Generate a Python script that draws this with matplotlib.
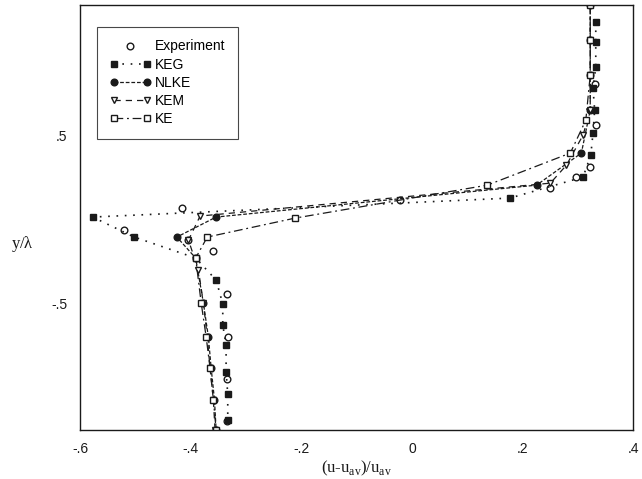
import matplotlib
matplotlib.use("Agg")
import matplotlib.pyplot as plt
from matplotlib.legend_handler import HandlerLine2D

# values: x = (u-u_av)/u_av, y = y/lambda
exp_x = [0.330, 0.332, 0.322, 0.297, 0.250, -0.021, -0.416, -0.520, -0.404, -0.359, -0.334, -0.333, -0.334, -0.334]
exp_y = [0.804, 0.560, 0.310, 0.250, 0.185, 0.113, 0.065, -0.065, -0.125, -0.190, -0.446, -0.702, -0.952, -1.202]

keg_x = [0.332, 0.332, 0.332, 0.327, 0.330, 0.327, 0.323, 0.309, 0.177, -0.577, -0.502, -0.391,
         -0.354, -0.342, -0.342, -0.336, -0.336, -0.333, -0.333]
keg_y = [1.173, 1.054, 0.905, 0.780, 0.649, 0.512, 0.381, 0.250, 0.125, 0.012, -0.107, -0.232,
         -0.363, -0.506, -0.631, -0.750, -0.911, -1.042, -1.196]

nlke_x = [0.322, 0.322, 0.322, 0.322, 0.306, 0.225, -0.354, -0.425, -0.391, -0.377, -0.368, -0.363, -0.357, -0.354]
nlke_y = [1.274, 1.065, 0.857, 0.649, 0.393, 0.202, 0.012, -0.107, -0.232, -0.500, -0.702, -0.887, -1.077, -1.256]

kem_x = [0.322, 0.322, 0.322, 0.322, 0.309, 0.279, 0.250, -0.383, -0.404, -0.386, -0.377, -0.370, -0.365, -0.359, -0.356]
kem_y = [1.274, 1.065, 0.857, 0.649, 0.500, 0.321, 0.214, 0.018, -0.125, -0.304, -0.500, -0.702, -0.887, -1.077, -1.256]

ke_x = [0.322, 0.322, 0.322, 0.314, 0.286, 0.136, -0.211, -0.370, -0.391, -0.381, -0.372, -0.365, -0.359, -0.354]
ke_y = [1.274, 1.065, 0.857, 0.589, 0.393, 0.202, 0.006, -0.107, -0.232, -0.500, -0.702, -0.887, -1.077, -1.256]

x_ticks = [-0.6, -0.4, -0.2, 0.0, 0.2, 0.4]
x_ticklabels = ['-.6', '-.4', '-.2', '0', '.2', '.4']
y_ticks = [0.5, -0.5]
y_ticklabels = ['.5', '-.5']

ink = '#1a1a1a'
sans = ['Liberation Sans Narrow', 'Liberation Sans', 'DejaVu Sans']
serif = ['Liberation Serif', 'DejaVu Serif']

fig = plt.figure(figsize=(6.42, 4.79), dpi=100)
ax = fig.add_axes([0.1246, 0.1023, 0.862, 0.887])

lw = 0.9
ms = 4.8
exp_line, = ax.plot(exp_x, exp_y, linestyle='none', marker='o', ms=ms, mfc='white', mec=ink, mew=1.0,
                    label='Experiment')
ax.plot(keg_x, keg_y, linestyle=(0, (1, 4)), color=ink, lw=lw + 0.3, marker='s', ms=ms, mfc=ink, mec=ink,
        label='KEG')
ax.plot(nlke_x, nlke_y, linestyle=(0, (3, 1.5)), color=ink, lw=lw, marker='o', ms=ms, mfc=ink, mec=ink,
        label='NLKE')
ax.plot(kem_x, kem_y, linestyle=(0, (5, 4)), color=ink, lw=lw, marker='v', ms=ms, mfc='white', mec=ink,
        label='KEM')
ax.plot(ke_x, ke_y, linestyle=(0, (7, 3, 1.5, 3)), color=ink, lw=lw, marker='s', ms=ms, mfc='white', mec=ink,
        label='KE')

ax.set_xlim(-0.6, 0.4)
ax.set_ylim(-1.256, 1.274)
ax.set_xticks(x_ticks)
ax.set_xticklabels(x_ticklabels, family=sans, fontsize=10)
ax.set_yticks(y_ticks)
ax.set_yticklabels(y_ticklabels, family=sans, fontsize=10)
ax.tick_params(length=0, pad=9, colors=ink)

for s in ax.spines.values():
    s.set_color(ink)
    s.set_linewidth(1.0)

ax.set_xlabel(r'(u-u$_{\mathregular{av}}$)/u$_{\mathregular{av}}$', family=serif, fontsize=12, color=ink,
              labelpad=2)
fig.text(0.035, 0.49, r'y/$\mathregular{\lambda}$', family=serif, fontsize=12, color=ink,
         ha='center', va='center')

leg = ax.legend(loc='upper left', bbox_to_anchor=(0.018, 0.965), frameon=True, fancybox=False,
                edgecolor=ink, prop={'family': sans, 'size': 10}, numpoints=2, handlelength=3.0,
                handletextpad=0.3, borderpad=0.9, labelspacing=0.3,
                handler_map={exp_line: HandlerLine2D(numpoints=1)})
leg.get_frame().set_linewidth(0.8)

plt.savefig('out.png', dpi=100)
